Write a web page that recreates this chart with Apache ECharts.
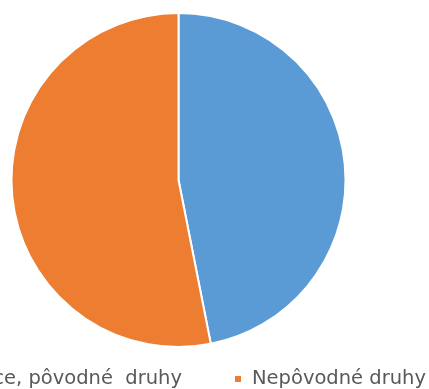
<!DOCTYPE html>
<html>
<head>
<meta charset="utf-8">
<style>
  html, body { margin: 0; padding: 0; background: #fff; }
  #chart { width: 429px; height: 389px; }
</style>
<script src="https://cdn.jsdelivr.net/npm/echarts@6/dist/echarts.min.js"></script>
</head>
<body>
<div id="chart"></div>
<script>
// Share of native vs. non-native species
const categories = ['Domáce, pôvodné  druhy', 'Nepôvodné druhy'];
const shares = [46.9, 53.1];
const colors = ['#5B9BD5', '#ED7D31'];

const chart = echarts.init(document.getElementById('chart'), null, { renderer: 'canvas' });

const legendText = {
  fontFamily: 'DejaVu Sans',
  fontSize: 19.5,
  color: '#595959',
  padding: [0, 0, 0, 5]
};

chart.setOption({
  animation: false,
  color: colors,
  legend: [
    {
      data: [categories[0]],
      right: 242,
      top: 364,
      icon: 'rect',
      itemWidth: 8,
      itemHeight: 8,
      textStyle: legendText
    },
    {
      data: [categories[1]],
      left: 228,
      top: 364,
      icon: 'rect',
      itemWidth: 8,
      itemHeight: 8,
      textStyle: legendText
    }
  ],
  series: [{
    type: 'pie',
    center: [178.5, 180],
    radius: [0, 167],
    startAngle: 90,
    clockwise: true,
    label: { show: false },
    labelLine: { show: false },
    emphasis: { disabled: true },
    itemStyle: { borderColor: '#ffffff', borderWidth: 2 },
    data: categories.map((name, i) => ({ name, value: shares[i] }))
  }]
});
</script>
</body>
</html>
